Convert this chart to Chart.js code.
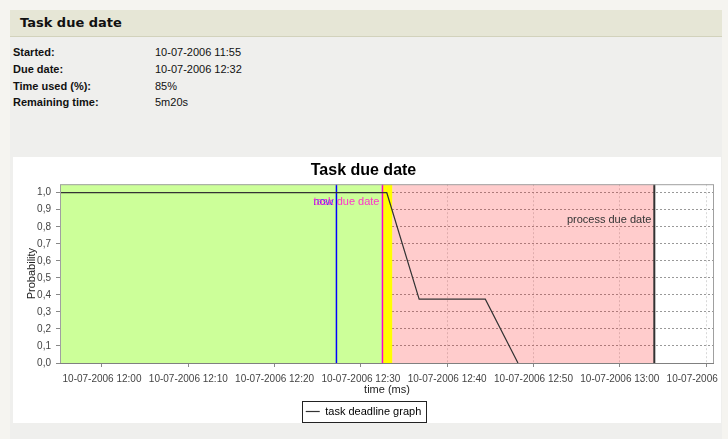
<!DOCTYPE html>
<html>
<head>
<meta charset="utf-8">
<script src="https://cdn.jsdelivr.net/npm/chart.js@4/dist/chart.umd.min.js"></script>
<style>
  body { margin: 0; background: #f5f4f0; font-family: "Liberation Sans", Arial, sans-serif; }
  #page { position: absolute; left: 10px; top: 10px; width: 712px; height: 429px; background: #efefed; }
  #head { position: absolute; left: 0; top: 0; width: 712px; height: 26px; background: #e6e6d6; border-bottom: 1px solid #d2d2bc; }
  #head span { position: absolute; left: 10px; top: 5px; font: bold 13px "DejaVu Sans", sans-serif; color: #111; }
  .row { position: absolute; left: 3px; font-size: 11px; color: #111; }
  .row b { display: inline-block; width: 142px; }
  #panel { position: absolute; left: 3px; top: 147px; width: 708px; height: 266px; background: #fff; overflow: hidden; }
</style>
</head>
<body>
<div id="page">
  <div id="head"><span>Task due date</span></div>
  <div class="row" style="top:36px"><b>Started:</b>10-07-2006 11:55</div>
  <div class="row" style="top:53px"><b>Due date:</b>10-07-2006 12:32</div>
  <div class="row" style="top:70px"><b>Time used (%):</b>85%</div>
  <div class="row" style="top:86px"><b>Remaining time:</b>5m20s</div>
  <div id="panel"><canvas id="chart" width="708" height="266"></canvas></div>
</div>
<script>
// data
let datePrefix = '10-07-2006 ';
let xRange = ['11:55:08', '13:10:55'];
let xTicks = ['12:00', '12:10', '12:20', '12:30', '12:40', '12:50', '13:00', '13:10'];
let yTicks = [0, 0.1, 0.2, 0.3, 0.4, 0.5, 0.6, 0.7, 0.8, 0.9, 1.0];
let lineTimes = ['11:55:08', '12:33:00', '12:36:45', '12:44:25', '12:48:12'];
let lineValues = [1.0, 1.0, 0.375, 0.375, 0.0];
let bandStarts = ['11:55', '12:32:30', '12:33:38'];
let bandEnds = ['12:32:30', '12:33:38', '13:04:00'];
let bandColors = ['#ccff99', '#ffff00', 'rgba(255,0,0,0.2)'];
let markerNames = ['now', 'task due date', 'process due date'];
let markerTimes = ['12:27:10', '12:32:30', '13:04:00'];
let markerColors = ['#0000ff', '#ff00cc', '#333333'];
let markerWidths = [1.5, 1.5, 2];
let markerTextColors = ['#3333ff', '#ff33cc', '#333333'];
let markerTextTop = [18, 18, 36];

function toMin(t) {
    let p = t.split(':').map(Number);
    return p[0] * 60 + p[1] + (p[2] || 0) / 60;
}
function fmt(m) {
    let h = Math.floor(m / 60), mm = Math.round(m % 60);
    return datePrefix + String(h).padStart(2, '0') + ':' + String(mm).padStart(2, '0');
}

let markers = {
    id: 'markers',
    beforeDatasetsDraw(chart) {
        let {ctx, chartArea: a, scales: {x}} = chart;
        ctx.save();
        ctx.beginPath();
        ctx.rect(a.left, a.top, a.width, a.height);
        ctx.clip();
        bandStarts.forEach((s, i) => {
            let x0 = x.getPixelForValue(toMin(s));
            let x1 = x.getPixelForValue(toMin(bandEnds[i]));
            ctx.fillStyle = bandColors[i];
            ctx.fillRect(x0, a.top, x1 - x0, a.height);
        });
        markerTimes.forEach((t, i) => {
            let px = x.getPixelForValue(toMin(t));
            ctx.strokeStyle = markerColors[i];
            ctx.lineWidth = markerWidths[i];
            ctx.beginPath();
            ctx.moveTo(px, a.top);
            ctx.lineTo(px, a.bottom);
            ctx.stroke();
        });
        ctx.restore();
    },
    afterDatasetsDraw(chart) {
        let {ctx, chartArea: a, scales: {x}} = chart;
        ctx.save();
        ctx.strokeStyle = '#a0a0a0';
        ctx.lineWidth = 1;
        ctx.strokeRect(a.left + 0.5, a.top + 0.5, a.width - 1, a.height);
        ctx.strokeStyle = '#808080';
        ctx.beginPath();
        ctx.moveTo(a.left, a.bottom + 0.5);
        ctx.lineTo(a.right, a.bottom + 0.5);
        ctx.stroke();
        ctx.font = '11px "Liberation Sans", Arial, sans-serif';
        ctx.textAlign = 'right';
        ctx.textBaseline = 'middle';
        markerNames.forEach((n, i) => {
            let px = x.getPixelForValue(toMin(markerTimes[i]));
            ctx.fillStyle = markerTextColors[i];
            ctx.fillText(n, px - 3, a.top + markerTextTop[i]);
        });
        ctx.restore();
    },
    afterDraw(chart) {
        let hb = chart.legend.legendHitBoxes[0];
        if (!hb) return;
        let ctx = chart.ctx;
        let cy = hb.top + hb.height / 2;
        ctx.save();
        ctx.strokeStyle = '#222';
        ctx.lineWidth = 1;
        ctx.strokeRect(Math.round(hb.left - 4) + 0.5, Math.round(cy - 10.5) + 0.5, Math.round(hb.width + 8), 21);
        ctx.restore();
    }
};

let tickFont = { family: '"Liberation Sans", Arial, sans-serif', size: 10 };

new Chart(document.getElementById('chart'), {
    type: 'line',
    data: {
        datasets: [{
            label: 'task deadline graph',
            data: lineTimes.map((t, i) => ({ x: toMin(t), y: lineValues[i] })),
            borderColor: '#333',
            borderWidth: 1.2,
            pointRadius: 0,
            tension: 0,
            fill: false
        }]
    },
    plugins: [markers],
    options: {
        responsive: false,
        animation: false,
        layout: { padding: { left: 0, top: 0, right: 7, bottom: -4 } },
        plugins: {
            title: {
                display: true,
                text: 'Task due date',
                color: '#000',
                font: { family: '"Liberation Sans", Arial, sans-serif', size: 16, weight: 'bold' },
                padding: { top: 4, bottom: 4 }
            },
            legend: {
                position: 'bottom',
                labels: {
                    usePointStyle: true,
                    pointStyle: 'line',
                    pointStyleWidth: 14,
                    color: '#000',
                    padding: 6,
                    font: { family: '"Liberation Sans", Arial, sans-serif', size: 11 }
                }
            },
            tooltip: { enabled: false }
        },
        scales: {
            x: {
                type: 'linear',
                min: toMin(xRange[0]),
                max: toMin(xRange[1]),
                afterBuildTicks: s => { s.ticks = xTicks.map(t => ({ value: toMin(t) })); },
                afterFit: s => { s.paddingLeft = 0; s.paddingRight = 0; s.height = 37; },
                ticks: { autoSkip: false, maxRotation: 0, padding: 6, color: '#444', font: tickFont, callback: v => fmt(v) },
                grid: { color: '#d8d8d8', tickColor: '#888', tickLength: 4 },
                border: { display: false, dash: [2, 2] },
                title: { display: true, text: 'time (ms)', color: '#222', font: { family: '"Liberation Sans", Arial, sans-serif', size: 11 }, padding: { top: 0, bottom: 3 } }
            },
            y: {
                min: 0,
                max: 1.05,
                afterBuildTicks: s => { s.ticks = yTicks.map(v => ({ value: v })); },
                afterFit: s => { s.width = 47; },
                ticks: { padding: 5, color: '#444', font: tickFont, callback: v => v.toFixed(1).replace('.', ',') },
                grid: { color: '#999', tickColor: '#888', tickLength: 4 },
                border: { display: false, dash: [2, 2] },
                title: { display: true, text: 'Probability', color: '#222', font: { family: '"Liberation Sans", Arial, sans-serif', size: 11 }, padding: { top: 12, bottom: 0 } }
            }
        }
    }
});
</script>
</body>
</html>
